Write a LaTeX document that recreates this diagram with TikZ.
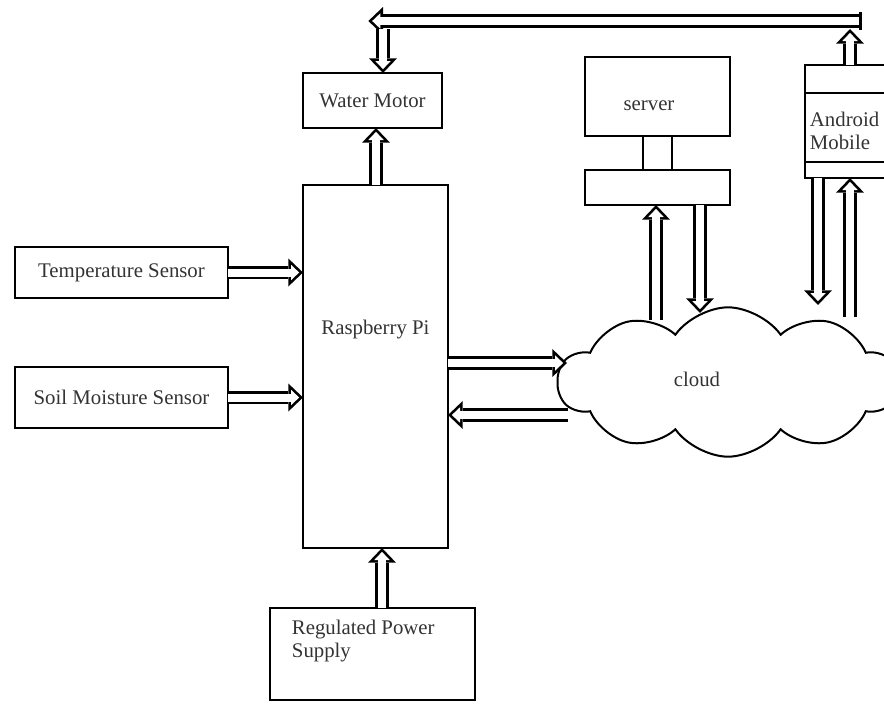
\documentclass[tikz,border=0pt]{standalone}
\usepackage{fontspec}
\setmainfont{Liberation Serif}
\usetikzlibrary{arrows.meta,shapes.symbols}

\tikzset{every picture/.style={line width=0.75pt}}
\tikzset{
  blk/.style={draw, line width=1.8pt, inner sep=0pt, outer sep=0pt},
  txt/.style={font=\fontsize{15.6}{17.5}\selectfont, text=black!80},
  hollow/.style={draw=white, line width=6pt, shorten >=2.9pt,
    -{Triangle[length=6.1pt,width=11.6pt,line width=0pt]},
    preaction={draw=black, line width=10pt, shorten >=0pt,
      -{Triangle[length=11pt,width=21pt,line width=0pt]}}}
}

\begin{document}
\begin{tikzpicture}[x=0.75pt,y=0.75pt,yscale=-1,xscale=1]
	\useasboundingbox (0,0) rectangle (884,703);

	%Shape: Rectangle [id:wm]
	\node (wm) at (372.5,100.5) [blk, minimum width=104.25pt, minimum height=41.25pt] {};
	%Shape: Rectangle [id:pi]
	\node (pi) at (375.5,366.5) [blk, minimum width=108.75pt, minimum height=272.25pt] {};
	%Shape: Rectangle [id:temp]
	\node (temp) at (121.5,272.5) [blk, minimum width=159.75pt, minimum height=38.25pt] {};
	%Shape: Rectangle [id:soil]
	\node (soil) at (121.5,397.5) [blk, minimum width=159.75pt, minimum height=45.75pt] {};
	%Shape: Rectangle [id:power]
	\node (power) at (372.5,654) [blk, minimum width=153.75pt, minimum height=69pt] {};
	%Shape: Rectangle [id:srv]
	\node (srv) at (657.5,96.5) [blk, minimum width=108.75pt, minimum height=59.25pt] {};
	%Shape: Rectangle [id:neck]
	\node (neck) at (657.5,153) [blk, minimum width=21.75pt, minimum height=25.5pt] {};
	%Shape: Rectangle [id:base]
	\node (base) at (657.5,187.5) [blk, minimum width=108.75pt, minimum height=26.25pt] {};
	%Shape: Rectangle [id:android]
	\node (android) at (850,121.5) [blk, minimum width=67.5pt, minimum height=84.75pt] {};
	\draw [line width=1.4pt] (android.west |- 0,93) -- (android.east |- 0,93) ;
	\draw [line width=1.4pt] (android.west |- 0,162) -- (android.east |- 0,162) ;
	%Shape: Cloud [id:cloud]
	\node (cloud) at (728,382) [draw, line width=1.5pt, cloud, cloud puffs=10, cloud puff arc=110, aspect=2.3, minimum width=255pt, minimum height=112pt, inner sep=0pt] {};

	% Text Node
	\node (wmtext) at (wm) [txt] {Water Motor};
	% Text Node
	\node (pitext) at (375.5,330) [txt] {Raspberry Pi};
	% Text Node
	\node (temptext) at (temp) [txt] {Temperature Sensor};
	% Text Node
	\node (soiltext) at (soil) [txt] {Soil Moisture Sensor};
	% Text Node
	\node (powertext) at (287,615) [txt, anchor=north west, align=left] {Regulated Power\\Supply};
	% Text Node
	\node (srvtext) at (649,106) [txt] {server};
	% Text Node
	\node (andtext) at (805,131) [txt, anchor=west, align=left] {Android\\Mobile};
	% Text Node
	\node (cloudtext) at (697,379) [txt] {cloud};

	%Coordinates for the free ends
	\coordinate (picl) at (567,363);
	\coordinate (clpi) at (568,415);
	\coordinate (clsu) at (656,320);
	\coordinate (clsd) at (700,313);
	\coordinate (clad) at (818,305);
	\coordinate (clau) at (850,317);
	\coordinate (topr) at (850,21);
	\coordinate (topl) at (383,21);

	%Hollow arrows
	\draw [hollow] (temp.east) -- (temp.east -| pi.west) ;
	\draw [hollow] (soil.east) -- (soil.east -| pi.west) ;
	\draw [hollow] (power.north -| 382,0) -- (pi.south -| 382,0) ;
	\draw [hollow] (pi.north -| 376,0) -- (wm.south -| 376,0) ;
	\draw [hollow] (picl -| pi.east) -- (picl) ;
	\draw [hollow] (clpi) -- (clpi -| pi.east) ;
	\draw [hollow] (clsu) -- (clsu |- base.south) ;
	\draw [hollow] (clsd |- base.south) -- (clsd) ;
	\draw [hollow] (clad |- android.south) -- (clad) ;
	\draw [hollow] (clau) -- (clau |- android.south) ;
	\draw [hollow] ([xshift=8]topr) -- ([xshift=-11]topl) ;
	\draw [line width=2pt] ([xshift=8,yshift=-6.67]topr) -- ([xshift=8,yshift=6.67]topr) ;
	\draw [hollow] ([yshift=6]topl) -- (wm.north -| topl) ;
	\draw [hollow] (android.north -| topr) -- ([yshift=6]topr) ;

\end{tikzpicture}
\end{document}
